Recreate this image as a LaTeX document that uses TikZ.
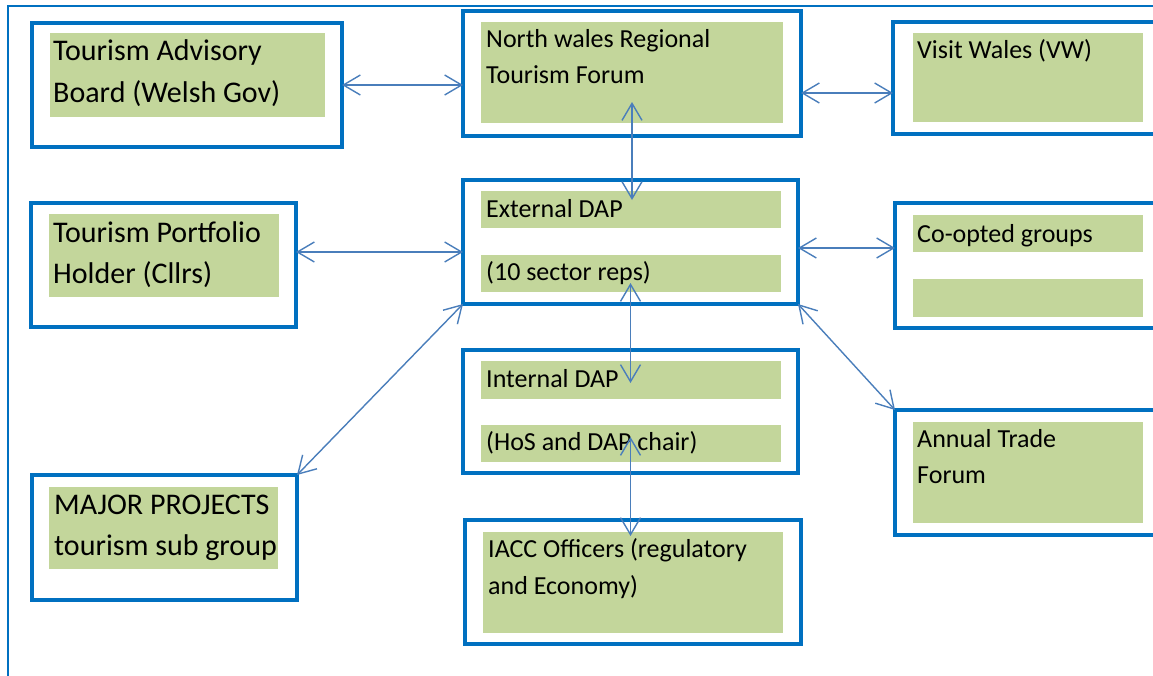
\documentclass[tikz,border=0pt]{standalone}
\usepackage{fontspec}
\setmainfont{Carlito}
\usetikzlibrary{arrows.meta}
\definecolor{boxblue}{HTML}{0070C0}
\definecolor{arrowblue}{HTML}{4A7EBB}
\definecolor{sage}{HTML}{C3D69B}

\begin{document}
\begin{tikzpicture}[x=1pt,y=-1pt,
  obox/.style={draw=boxblue, line width=3.5pt, rectangle, inner sep=0pt, outer sep=0pt},
  pad/.style={fill=sage},
  conn/.style={draw=arrowblue, line width=1.4pt,
    {Straight Barb[length=17pt,width=20pt]}-{Straight Barb[length=17pt,width=20pt]}},
  txtS/.style={anchor=base west, inner sep=0pt, font=\fontsize{26}{30}\selectfont},
  txtL/.style={anchor=base west, inner sep=0pt, font=\fontsize{30}{34}\selectfont}]
\useasboundingbox (0,0) rectangle (1153,675);
\clip (0,0) rectangle (1153,675);

% outer frame of the figure
\draw[boxblue, line width=1.5pt] (8,700) -- (8,6) -- (1170,6);

% green text panels
\fill[pad] (50,33) rectangle (325,117);     % advisory board
\fill[pad] (481,22) rectangle (783,123);    % regional forum
\fill[pad] (913,33) rectangle (1143,122);   % visit wales
\fill[pad] (481,191) rectangle (781,228);   % external DAP
\fill[pad] (481,255) rectangle (781,292);
\fill[pad] (49,214) rectangle (279,297);    % portfolio holder
\fill[pad] (913,215) rectangle (1143,252);  % co-opted
\fill[pad] (913,279) rectangle (1143,317);
\fill[pad] (481,361) rectangle (781,399);   % internal DAP
\fill[pad] (481,425) rectangle (781,462);
\fill[pad] (913,422) rectangle (1143,523);  % trade forum
\fill[pad] (49,487) rectangle (278,569);    % major projects
\fill[pad] (483,532) rectangle (783,633);   % officers

% framed boxes
\node[obox, minimum width=310pt, minimum height=124pt] (tab)  at (187,85) {};
\node[obox, minimum width=338pt, minimum height=125pt] (nw)   at (632,73.5) {};
\node[obox, minimum width=272pt, minimum height=112pt] (vw)   at (1029,78) {};
\node[obox, minimum width=335pt, minimum height=124pt] (ext)  at (630.5,242) {};
\node[obox, minimum width=265pt, minimum height=124pt] (tph)  at (163.5,265) {};
\node[obox, minimum width=270pt, minimum height=125pt] (coop) at (1030,265.5) {};
\node[obox, minimum width=335pt, minimum height=123pt] (int)  at (630.5,411.5) {};
\node[obox, minimum width=270pt, minimum height=125pt] (ann)  at (1030,472.5) {};
\node[obox, minimum width=265pt, minimum height=125pt] (maj)  at (164.5,537.5) {};
\node[obox, minimum width=336pt, minimum height=124pt] (iacc) at (633,582) {};

% labels
\node[txtL] (tab1) at (53,60)  {Tourism Advisory};
\node[txtL] (tab2) at (53,102) {Board (Welsh Gov)};
\node[txtS] (nw1)  at (486,47) {North wales Regional};
\node[txtS] (nw2)  at (486,83) {Tourism Forum};
\node[txtS] (vw1)  at (917,58) {Visit Wales (VW)};
\node[txtS] (ext1) at (486,217) {External DAP};
\node[txtS] (ext2) at (486,280) {(10 sector reps)};
\node[txtL] (tph1) at (53,242) {Tourism Portfolio};
\node[txtL] (tph2) at (53,283) {Holder (Cllrs)};
\node[txtS] (coop1) at (917,242) {Co-opted groups};
\node[txtS] (int1) at (486,387) {Internal DAP};
\node[txtS] (int2) at (486,450) {(HoS and DAP chair)};
\node[txtS] (ann1) at (917,447) {Annual Trade};
\node[txtS] (ann2) at (917,483) {Forum};
\node[txtL] (maj1) at (54,514) {MAJOR PROJECTS};
\node[txtL] (maj2) at (54,555) {tourism sub group};
\node[txtS] (iacc1) at (488,557) {IACC Officers (regulatory};
\node[txtS] (iacc2) at (488,594) {and Economy)};

% connector rows
\coordinate (rowNV) at (0,93);
\coordinate (rowTE) at (0,252);
\coordinate (rowEC) at (0,248);

% two-way links
\draw[conn] (tab.east) -- (tab.east -| nw.west);
\draw[conn] (nw.east |- rowNV) -- (vw.west |- rowNV);
\draw[conn] ([yshift=34pt]nw.south) -- ([yshift=-20pt,xshift=1.5pt]ext.north);
\draw[conn] (tph.east |- rowTE) -- (ext.west |- rowTE);
\draw[conn] (ext.east |- rowEC) -- (coop.west |- rowEC);
\draw[conn] (ext.south west) -- (maj.north east);
\draw[conn] (ext.south east) -- (ann.north west);
\draw[conn] ([yshift=21pt]ext.south) -- ([yshift=-33pt]int.north);
\draw[conn] ([yshift=36pt]int.south) -- ([yshift=-16pt,xshift=-2.5pt]iacc.north);
\end{tikzpicture}
\end{document}
